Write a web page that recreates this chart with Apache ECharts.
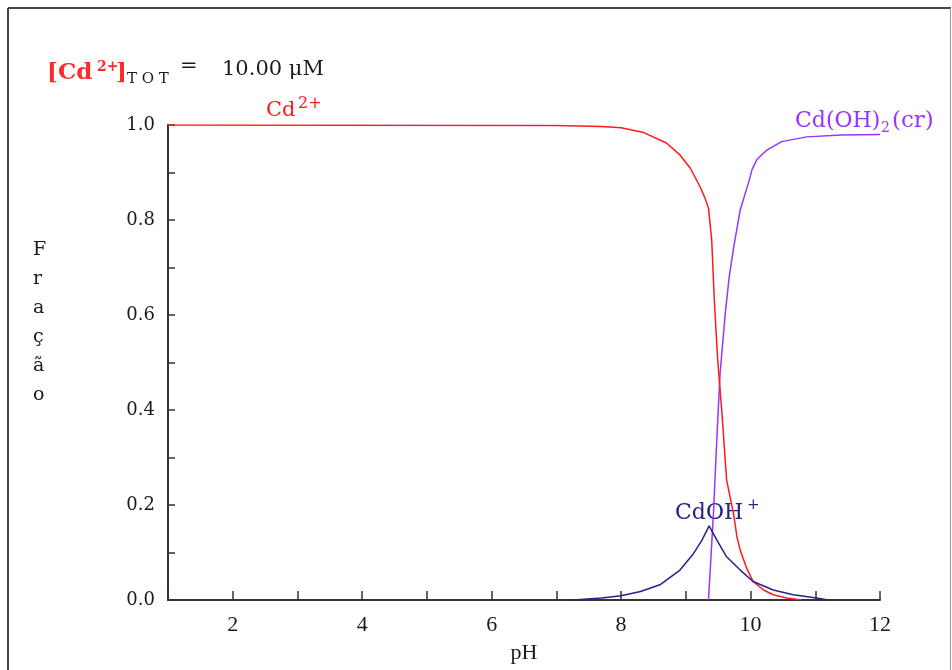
<!DOCTYPE html>
<html>
<head>
<meta charset="utf-8">
<script src="https://cdn.jsdelivr.net/npm/echarts@6/dist/echarts.min.js"></script>
<style>
  html, body { margin: 0; padding: 0; background: #fff; }
  #chart { width: 952px; height: 670px; }
</style>
</head>
<body>
<div id="chart"></div>
<script>
// species fractions (pH, fraction)
const phCd = [1, 7.0, 7.7, 8.0, 8.35, 8.7, 8.91, 9.07, 9.22, 9.30, 9.35, 9.40, 9.44, 9.49, 9.56, 9.63, 9.74, 9.79, 9.84, 9.94, 10.04, 10.2, 10.35, 10.56, 10.79];
const fracCd = [1, 0.999, 0.997, 0.994, 0.984, 0.962, 0.937, 0.909, 0.87, 0.845, 0.825, 0.758, 0.632, 0.51, 0.39, 0.253, 0.179, 0.133, 0.105, 0.067, 0.039, 0.021, 0.011, 0.004, 0];

const phCdOH = [7.26, 7.7, 8.0, 8.3, 8.6, 8.91, 9.12, 9.25, 9.36, 9.48, 9.63, 9.84, 10.04, 10.35, 10.66, 11.02, 11.2];
const fracCdOH = [0, 0.004, 0.009, 0.018, 0.032, 0.063, 0.098, 0.126, 0.156, 0.126, 0.091, 0.063, 0.039, 0.021, 0.011, 0.004, 0];

const phSolid = [9.35, 9.38, 9.43, 9.45, 9.49, 9.53, 9.61, 9.67, 9.74, 9.84, 9.98, 10.02, 10.1, 10.25, 10.48, 10.87, 11.4, 12];
const fracSolid = [0, 0.07, 0.19, 0.253, 0.37, 0.478, 0.604, 0.68, 0.743, 0.821, 0.884, 0.905, 0.928, 0.947, 0.965, 0.975, 0.979, 0.98];

const pair = (xs, ys) => xs.map((x, i) => [x, ys[i]]);

const chart = echarts.init(document.getElementById("chart"));

const serif = "DejaVu Serif";
const red = "#ff1a1a";
const navy = "#23238f";
const violet = "#9933ff";
const ink = "#1a1a1a";

// small helper for the free-floating text pieces
function txt(left, top, text, size, color, extra) {
  return {
    type: "text",
    left: left,
    top: top,
    style: Object.assign({ text: text, fontFamily: serif, fontSize: size, fill: color }, extra || {}),
  };
}

const option = {
  animation: false,
  backgroundColor: "#fff",
  grid: { left: 168, right: 72, top: 125, bottom: 70, outerBoundsMode: "none" },
  xAxis: {
    type: "value",
    min: 1,
    max: 12,
    interval: 1,
    axisLine: { lineStyle: { color: "#333", width: 2 } },
    axisTick: { inside: true, length: 9, lineStyle: { color: "#333", width: 1.5 } },
    splitLine: { show: false },
    axisLabel: {
      formatter: (v) => (v % 2 === 0 ? String(v) : ""),
      fontFamily: "Liberation Serif",
      fontSize: 22,
      color: ink,
      margin: 14,
    },
    name: "pH",
    nameLocation: "middle",
    nameGap: 42,
    nameTextStyle: { fontFamily: "Liberation Serif", fontSize: 22, color: ink },
  },
  yAxis: {
    type: "value",
    min: 0,
    max: 1,
    interval: 0.1,
    axisLine: { show: true, lineStyle: { color: "#333", width: 2 } },
    axisTick: { show: true, inside: true, length: 7, lineStyle: { color: "#333", width: 1.5 } },
    splitLine: { show: false },
    axisLabel: {
      formatter: (v) => (Math.round(v * 10) % 2 === 0 ? v.toFixed(1) : ""),
      fontFamily: serif,
      fontSize: 18,
      color: ink,
      margin: 13,
    },
  },
  series: [
    {
      name: "Cd2+",
      type: "line",
      data: pair(phCd, fracCd),
      showSymbol: false,
      lineStyle: { color: red, width: 1.5 },
      z: 3,
    },
    {
      name: "CdOH+",
      type: "line",
      data: pair(phCdOH, fracCdOH),
      showSymbol: false,
      lineStyle: { color: navy, width: 1.5 },
      z: 4,
    },
    {
      name: "Cd(OH)2(cr)",
      type: "line",
      data: pair(phSolid, fracSolid),
      showSymbol: false,
      lineStyle: { color: violet, width: 1.5 },
      z: 2,
    },
  ],
  graphic: [
    // frame
    { type: "line", shape: { x1: 8, y1: 8, x2: 951, y2: 8 }, style: { stroke: "#444", lineWidth: 2 } },
    { type: "line", shape: { x1: 8, y1: 8, x2: 8, y2: 670 }, style: { stroke: "#444", lineWidth: 2 } },
    { type: "line", shape: { x1: 950.5, y1: 8, x2: 950.5, y2: 670 }, style: { stroke: "#999", lineWidth: 1 } },
    // total concentration note
    txt(47, 62, "[Cd", 23, "#ff2a2a", { fontWeight: "bold" }),
    txt(97, 60, "2+", 14, "#ff2a2a", { fontWeight: "bold" }),
    txt(116, 62, "]", 23, "#ff2a2a", { fontWeight: "bold" }),
    txt(127, 72, "T O T", 15, ink),
    txt(180, 56, "=", 21, ink),
    txt(222, 59, "10.00 \u03bcM", 21, ink),
    // y axis title, stacked letters
    txt(33, 236, "F\nr\na\nç\nã\no", 19, ink, { lineHeight: 29, align: "center", x: 8 }),
    // series labels
    txt(266, 100, "Cd", 21, red),
    txt(298, 96, "2+", 16, red),
    txt(675, 502, "CdOH", 22, navy),
    txt(747, 498, "+", 15, navy),
    txt(795, 110, "Cd(OH)", 22, violet),
    txt(881, 121, "2", 14, violet),
    txt(892, 110, "(cr)", 23, violet),
  ],
};

chart.setOption(option);
</script>
</body>
</html>
